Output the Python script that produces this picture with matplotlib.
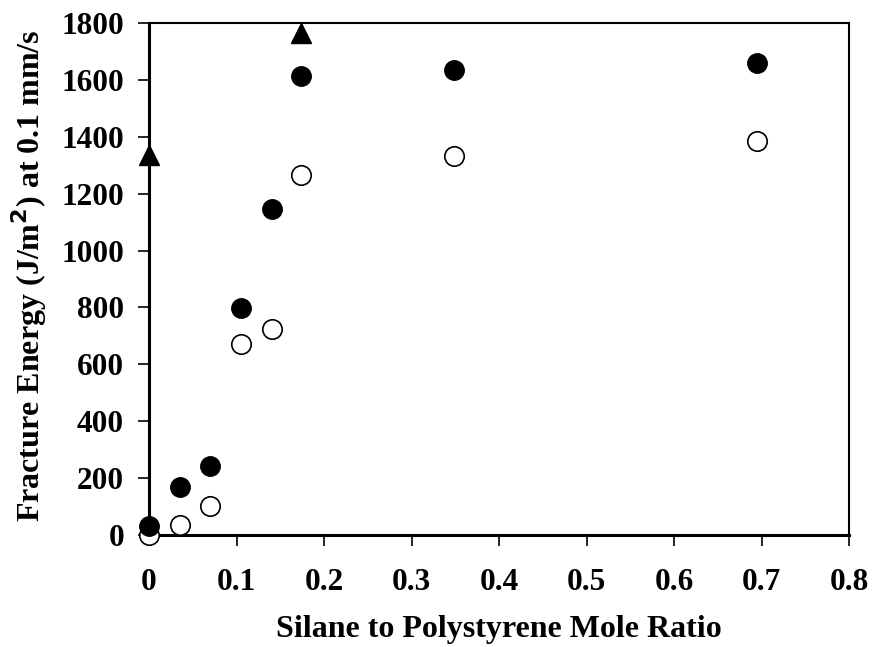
import matplotlib.pyplot as plt

# mole ratios and fracture energies
ratio = [0, 0.035, 0.07, 0.105, 0.14, 0.174, 0.348, 0.695]
energy_filled = [30, 170, 243, 798, 1146, 1612, 1635, 1658]
energy_open = [0, 35, 102, 673, 725, 1266, 1333, 1384]
ratio_tri = [0, 0.174]
energy_tri = [1336, 1765]

plt.rcParams['font.family'] = ['Liberation Serif', 'DejaVu Serif']
plt.rcParams['font.weight'] = 'bold'

fig = plt.figure(figsize=(8.72, 6.47), dpi=100)
ax = fig.add_axes([149 / 872, 112 / 647, 700 / 872, 512 / 647])

ax.plot(ratio, energy_open, 'o', ms=14, mfc='white', mec='black', mew=1.2, clip_on=False, zorder=3)
ax.plot(ratio, energy_filled, 'o', ms=14, mfc='black', mec='black', clip_on=False, zorder=4)
ax.plot(ratio_tri, energy_tri, '^', ms=14, mfc='black', mec='black', clip_on=False, zorder=4)

ax.set_xlim(0, 0.8)
ax.set_ylim(0, 1800)
ax.set_xticks([0, 0.1, 0.2, 0.3, 0.4, 0.5, 0.6, 0.7, 0.8])
ax.set_xticklabels(['0', '0.1', '0.2', '0.3', '0.4', '0.5', '0.6', '0.7', '0.8'])
ax.set_yticks(range(0, 2000, 200))

ax.spines['left'].set_linewidth(2.2)
ax.spines['bottom'].set_linewidth(2.2)
ax.spines['top'].set_linewidth(1.5)
ax.spines['right'].set_linewidth(1.5)
ax.tick_params(axis='both', direction='out', length=8, width=1.2, labelsize=22.5)
ax.tick_params(axis='x', pad=16)
ax.tick_params(axis='y', pad=10)

ax.set_xlabel('Silane to Polystyrene Mole Ratio', fontsize=23, fontweight='bold')
ax.set_ylabel('Fracture Energy (J/m$^\\mathbf{2}$) at 0.1 mm/s', fontsize=23, fontweight='bold')
ax.xaxis.set_label_coords(0.5, -0.157)
ax.yaxis.set_label_coords(-0.143, 0.507)

fig.savefig('out.png', dpi=100)
